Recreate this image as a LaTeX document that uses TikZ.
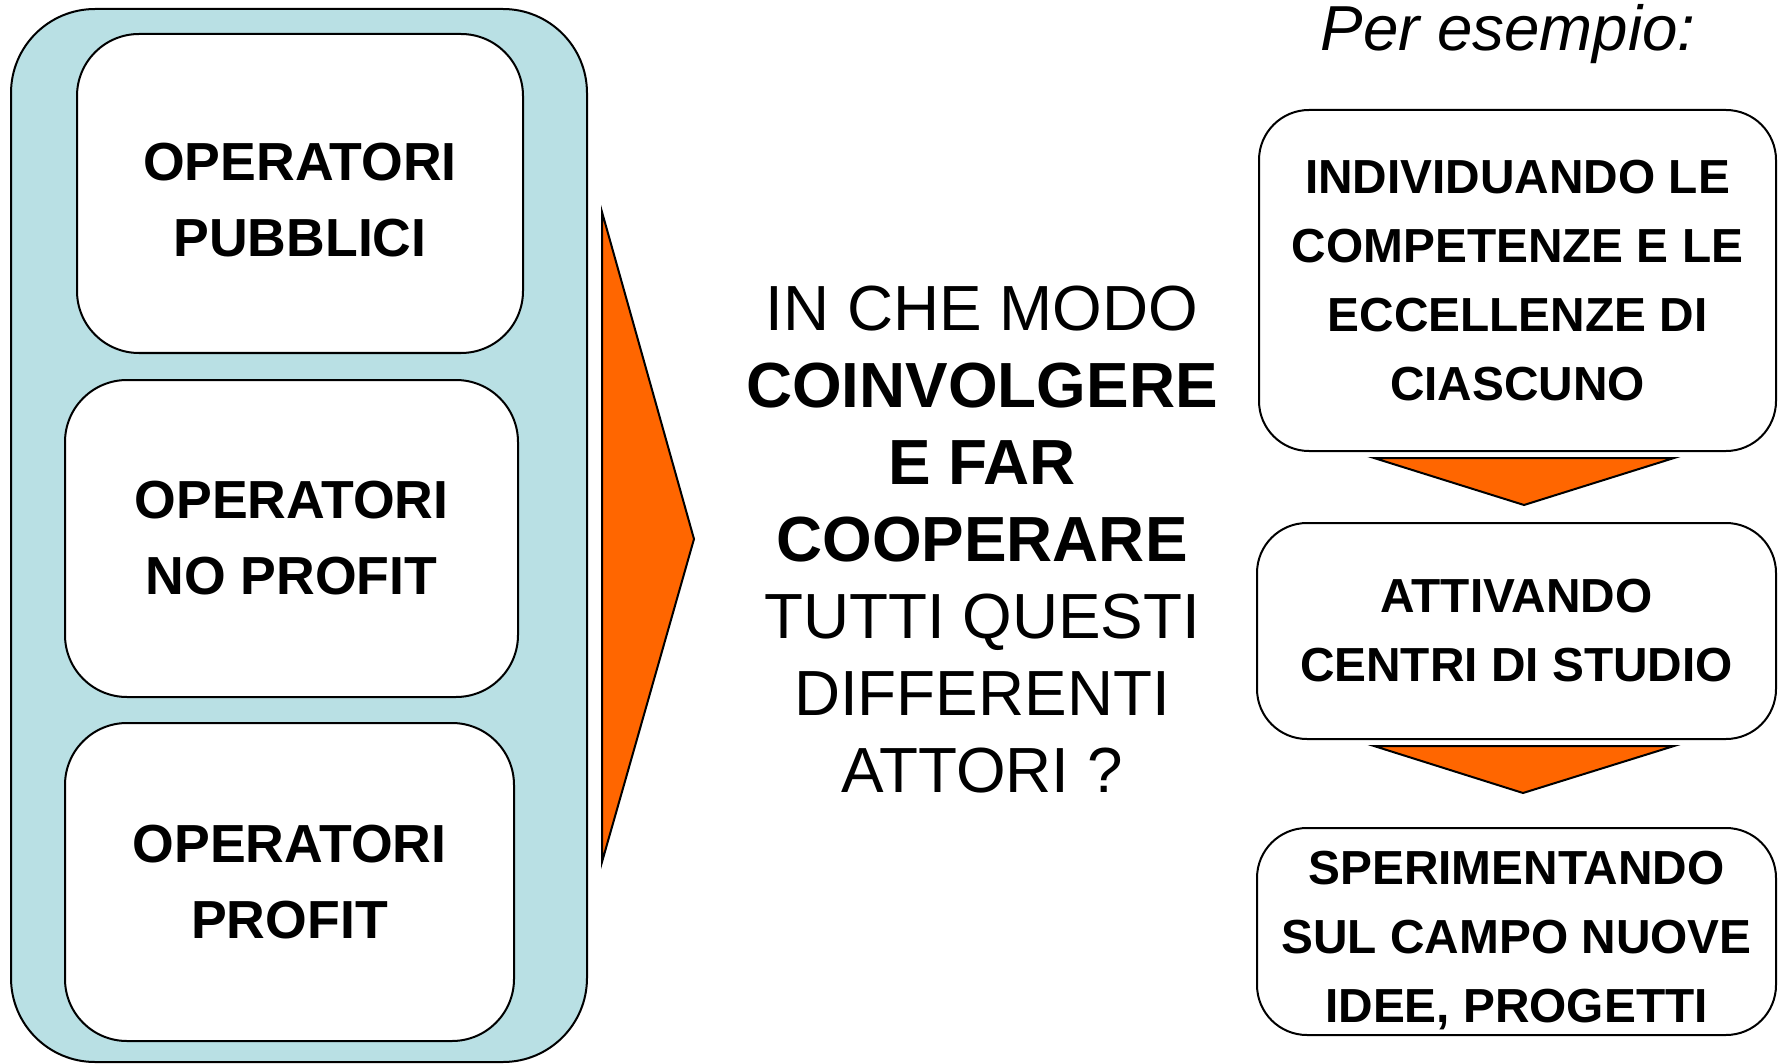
\documentclass[tikz,border=0pt]{standalone}
\usepackage{fontspec}
\setmainfont{Liberation Sans}
\usepackage{tikz}
\definecolor{paleblue}{RGB}{185,224,228}
\definecolor{darkorange}{RGB}{255,102,0}
% invisible strut to push a box text a little lower
\newcommand{\pushdown}{\rule{0pt}{25.5pt}}
\tikzset{
    groupbox/.style={draw=black, line width=1pt, fill=paleblue, rounded corners=42pt, inner sep=0pt},
    actorbox/.style={draw=black, line width=1pt, fill=white, rounded corners=31pt, align=center, inner sep=0pt,
        font=\bfseries\fontsize{26.8}{38}\selectfont},
    stepbox/.style={draw=black, line width=1pt, fill=white, rounded corners=25pt, align=center, inner sep=0pt,
        font=\bfseries\fontsize{23.9}{34.5}\selectfont},
    bigarrow/.style={draw=black, line width=1pt, fill=darkorange, line join=miter},
}

\begin{document}
\begin{tikzpicture}[x=0.5pt, y=-0.5pt]
    \useasboundingbox (0,0) rectangle (1778,1064);

    % Draw the light blue group of actors
    \node[groupbox, minimum width=288pt, minimum height=526.5pt] (group) at (299,535.5) {};

    % Draw the three actor boxes
    \node[actorbox, minimum width=223pt, minimum height=159.5pt] (pubblici) at (300,193.5) {\pushdown OPERATORI\\PUBBLICI};
    \node[actorbox, minimum width=226.5pt, minimum height=158.5pt] (noprofit) at (291.5,538.5) {OPERATORI\\NO PROFIT};
    \node[actorbox, minimum width=224.5pt, minimum height=159pt] (profit) at (289.5,882) {OPERATORI\\PROFIT};

    % Draw the big orange arrow
    \filldraw[bigarrow] (602,212) -- (694,539) -- (602,862) -- cycle;

    % The question in the middle
    \node[align=center, font=\fontsize{31.9}{38.5}\selectfont] (question) at (982,540)
        {IN CHE MODO\\\textbf{COINVOLGERE}\\\textbf{E FAR}\\\textbf{COOPERARE}\\TUTTI QUESTI\\DIFFERENTI\\ATTORI ?};

    % Title of the examples
    \node[anchor=base, font=\itshape\fontsize{31.8}{38}\selectfont] (esempio) at (1508,51) {Per esempio:};

    % Draw the example boxes
    \node[stepbox, minimum width=258.5pt, minimum height=170.5pt] (individuando) at (1517.5,280.5)
        {INDIVIDUANDO LE\\COMPETENZE E LE\\ECCELLENZE DI\\CIASCUNO};
    \node[stepbox, minimum width=259.5pt, minimum height=108pt] (attivando) at (1516.5,631)
        {ATTIVANDO\\CENTRI DI STUDIO};
    \node[stepbox, minimum width=259.5pt, minimum height=103.5pt] (sperimentando) at (1516.5,931.5)
        {\pushdown SPERIMENTANDO\\SUL CAMPO NUOVE\\IDEE, PROGETTI};

    % Draw the small orange arrows between them
    \filldraw[bigarrow] (1374,458) -- (1674,458) -- (1524,505) -- cycle;
    \filldraw[bigarrow] (1374,746) -- (1674,746) -- (1523,793) -- cycle;
\end{tikzpicture}
\end{document}
